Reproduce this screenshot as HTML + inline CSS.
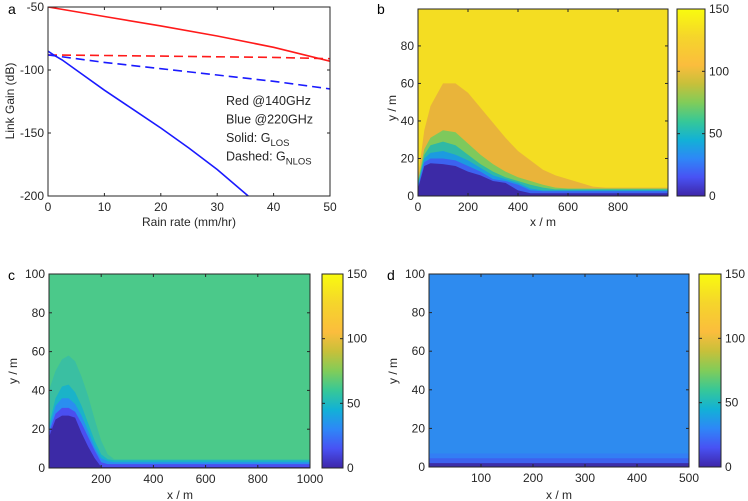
<!DOCTYPE html>
<html><head><meta charset="utf-8"><style>
html,body{margin:0;padding:0;background:#fff;}
svg{display:block;font-family:"Liberation Sans",Arial,sans-serif;}
text{fill:#262626;font-size:12px;}
</style></head><body>
<svg id="root" width="748" height="501" viewBox="0 0 748 501" xmlns="http://www.w3.org/2000/svg">
<defs>
<linearGradient id="parula" x1="0" y1="1" x2="0" y2="0">
<stop offset="0" stop-color="#3e26a8"/><stop offset="0.1" stop-color="#4852f4"/>
<stop offset="0.2" stop-color="#2e87f7"/><stop offset="0.3" stop-color="#12b1d6"/>
<stop offset="0.4" stop-color="#37c897"/><stop offset="0.5" stop-color="#81cc59"/>
<stop offset="0.6" stop-color="#c7c03a"/><stop offset="0.7" stop-color="#fbbd3d"/>
<stop offset="0.85" stop-color="#f5d52b"/><stop offset="1" stop-color="#f9fb0e"/>
</linearGradient>
</defs>
<g id="gA"></g>
<g id="gB"></g>
<g id="gC"></g>
<g id="gD"></g>
</svg>
<script>
// ---- Panel a data ----
const rainX = [0,10,20,30,40,50];
const redSolid = [-50,-57.5,-65,-73,-82,-93];
const redDashed = [-88,-88.5,-89,-89.5,-90,-91];
const blueDashed = [-88,-94,-99,-104,-109,-115];
const blueSolidX = [0,1,2.5,5,10,15,20,25,30,35.5];
const blueSolid = [-85,-88,-92,-100,-116,-131,-146,-162,-179,-200];
const aXTicks = [0,10,20,30,40,50];
const aYTicks = [-50,-100,-150,-200];
const legendLines = ["Red @140GHz","Blue @220GHz","Solid: G","Dashed: G"];
const legendSubs = ["","","LOS","NLOS"];

// ---- Panel b data ----
const bX = [0,25,50,100,150,200,250,300,350,400,450,500,550,600,650,700,750,1000];
const bOrange = [10,35,48,60,60,55,47,39,31,24,19,14,11,9,7,5,4.5,4.5];
const bGreen  = [8,25,31,35,34,28,22,17,13,10,8,6,4.5,4,4,4,4,4];
const bTeal   = [7,22,27,29,27,22,17,13,10,8,6,4.5,3.5,3.5,3.5,3.5,3.5,3.5];
const bBlue   = [6,20,23,24,22,19,15,11,9,7,4,3,3,3,3,3,3,3];
const bBlue2  = [5,18,20,20,19,16,13,9,8,6,3,2.5,2.5,2.5,2.5,2.5,2.5,2.5];
const bNavy   = [4,16,17.5,17,16,13,11,8,7,3,1.5,1.5,1.5,1.5,1.5,1.5,1.5,1.5];
const bXTicks = [0,200,400,600,800];
const bYTicks = [0,20,40,60,80];

// ---- Panel c data ----
const cX = [0,25,50,75,100,125,150,175,200,225,250,275,300,1000];
const cTeal  = [40,50,56,58,55,47,37,25,14,7,4.5,4.5,4.5,4.5];
const cCyan  = [22,36,42,43,39,32,23,14,7,4.5,4,4,4,4];
const cBlue  = [20,32,36,36,33,27,19,11,5,3.5,3,3,3,3];
const cBlue2 = [18,28,31,31,29,23,16,9,3,2,2,2,2,2];
const cNavy  = [16,25,27,27,26,18,11,5,0.5,0.5,0.5,0.5,0.5,0.5];
const cXTicks = [200,400,600,800,1000];
const cYTicks = [0,20,40,60,80,100];

// ---- Panel d data ----
const dX = [0,500];
const dBand1 = [7,7];
const dBand2 = [4.5,4.5];
const dBand3 = [2,2];
const dXTicks = [100,200,300,400,500];
const dYTicks = [0,20,40,60,80,100];
const cbTicks = [0,50,100,150];

const NS = "http://www.w3.org/2000/svg";
function mk(parent, tag, attrs, txt){
  const e = document.createElementNS(NS, tag);
  for (const k in attrs) e.setAttribute(k, attrs[k]);
  if (txt !== undefined) e.textContent = txt;
  parent.appendChild(e); return e;
}
function lin(d0,d1,r0,r1){ return v => r0 + (v-d0)/(d1-d0)*(r1-r0); }

function axesFrame(g, x0,y0,x1,y1, sx, sy, xt, yt, right){
  const f = mk(g,'rect',{x:x0,y:y0,width:x1-x0,height:y1-y0,fill:'none',stroke:'#262626','stroke-width':1});
  
  
  xt.forEach(v=>{
    const x = sx(v);
    mk(g,'line',{x1:x,y1:y1,x2:x,y2:y1-3,stroke:'#262626'});
    mk(g,'line',{x1:x,y1:y0,x2:x,y2:y0+3,stroke:'#262626'});
    const t = mk(g,'text',{x:x,y:y1+15,'text-anchor':'middle'}, v);
    
    
  });
  yt.forEach(v=>{
    const y = sy(v);
    mk(g,'line',{x1:x0,y1:y,x2:x0+3,y2:y,stroke:'#262626'});
    mk(g,'line',{x1:x1,y1:y,x2:x1-3,y2:y,stroke:'#262626'});
    const t = mk(g,'text',{x:x0-4,y:y+4,'text-anchor':'end'}, v);
    
    
  });
}
function polyline(g, xs, ys, sx, sy, color, dash, name){
  const pts = xs.map((x,i)=>sx(x).toFixed(1)+','+sy(ys[i]).toFixed(1)).join(' ');
  const p = mk(g,'polyline',{points:pts,fill:'none',stroke:color,'stroke-width':1.6,'stroke-dasharray':dash||'none'});
  
  
}
function area(g, xs, tops, sx, sy, color, name){
  let d = 'M'+sx(xs[0])+','+sy(0);
  xs.forEach((x,i)=>{ d += ' L'+sx(x).toFixed(1)+','+sy(tops[i]).toFixed(1); });
  d += ' L'+sx(xs[xs.length-1])+','+sy(0)+' Z';
  const p = mk(g,'path',{d:d,fill:color});
  
  
}
function colorbar(g, x0,y0,x1,y1){
  const r = mk(g,'rect',{x:x0,y:y0,width:x1-x0,height:y1-y0,fill:'url(#parula)',stroke:'#262626'});
  
  
  const s = lin(0,150,y1,y0);
  cbTicks.forEach(v=>{
    mk(g,'line',{x1:x0,y1:s(v),x2:x0+3,y2:s(v),stroke:'#262626'});
    mk(g,'line',{x1:x1,y1:s(v),x2:x1-3,y2:s(v),stroke:'#262626'});
    const t = mk(g,'text',{x:x1+4,y:s(v)+4}, v);
    
    
  });
}
function title(g, txt, x, y, rot, name){
  const t = mk(g,'text',{x:x,y:y,'text-anchor':'middle',transform:rot?`rotate(-90 ${x} ${y})`:''}, txt);
  
  
}
function plabel(g, txt, x, y){
  const t = mk(g,'text',{x:x,y:y,style:'font-size:14px;fill:#000'}, txt);
  
  
}

// Panel a
(function(){
  const g = document.getElementById('gA');
  const x0=48,x1=330,y0=7,y1=196;
  const sx = lin(0,50,x0,x1), sy = lin(-50,-200,y0,y1);
  mk(g,'clipPath',{id:'clipA'}).appendChild(Object.assign(document.createElementNS(NS,'rect'),{}));
  const cp = document.getElementById('clipA').firstChild;
  cp.setAttribute('x',x0);cp.setAttribute('y',y0);cp.setAttribute('width',x1-x0);cp.setAttribute('height',y1-y0);
  const lg = mk(g,'g',{'clip-path':'url(#clipA)'});
  polyline(lg, rainX, redDashed, sx, sy, '#ff1a1a', '9,5', 'red-dashed-nlos-line');
  polyline(lg, rainX, blueDashed, sx, sy, '#1a1aff', '9,5', 'blue-dashed-nlos-line');
  polyline(lg, rainX, redSolid, sx, sy, '#ff1a1a', null, 'red-solid-los-line');
  polyline(lg, blueSolidX, blueSolid, sx, sy, '#1a1aff', null, 'blue-solid-los-line');
  axesFrame(g,x0,y0,x1,y1,sx,sy,aXTicks,aYTicks);
  legendLines.forEach((s,i)=>{
    const t = mk(g,'text',{x:226,y:105+i*18.5,style:'font-size:12.5px'}, s);
    
    
    if (legendSubs[i]) mk(t,'tspan',{dy:4,style:'font-size:9.5px'}, legendSubs[i]);
  });
  title(g,'Rain rate (mm/hr)',189,226,false,'x-axis-title');
  title(g,'Link Gain (dB)',14,101,true,'y-axis-title');
  plabel(g,'a',8,14);
})();

// Panel b
(function(){
  const g = document.getElementById('gB');
  const x0=418,x1=668,y0=9,y1=196;
  const sx = lin(0,1000,x0,x1), sy = lin(0,100,y1,y0-0.6);
  const bg = mk(g,'rect',{x:x0,y:y0,width:x1-x0,height:y1-y0,fill:'#f4dd22'});
  
  
  area(g,bX,bOrange,sx,sy,'#e9b43a','contour-level-orange');
  area(g,bX,bGreen,sx,sy,'#7ec95c','contour-level-green');
  area(g,bX,bTeal,sx,sy,'#2fb9a5','contour-level-teal');
  area(g,bX,bBlue,sx,sy,'#1c9be0','contour-level-blue');
  area(g,bX,bBlue2,sx,sy,'#3c62f0','contour-level-blue2');
  area(g,bX,bNavy,sx,sy,'#3c2aa6','contour-level-navy');
  axesFrame(g,x0,y0,x1,y1,sx,sy,bXTicks,bYTicks);
  colorbar(g,677,9,705,196);
  title(g,'x / m',543,226,false,'x-axis-title');
  title(g,'y / m',396,108,true,'y-axis-title');
  plabel(g,'b',377,14);
})();

// Panel c
(function(){
  const g = document.getElementById('gC');
  const x0=49,x1=310,y0=274,y1=468;
  const sx = lin(0,1000,x0,x1), sy = lin(0,100,y1,y0);
  const bg = mk(g,'rect',{x:x0,y:y0,width:x1-x0,height:y1-y0,fill:'#4bc98a'});
  
  
  area(g,cX,cTeal,sx,sy,'#3abfa2','contour-level-teal');
  area(g,cX,cCyan,sx,sy,'#1ab3c8','contour-level-cyan');
  area(g,cX,cBlue,sx,sy,'#2a8ef0','contour-level-blue');
  area(g,cX,cBlue2,sx,sy,'#4a4ff0','contour-level-blue2');
  area(g,cX,cNavy,sx,sy,'#3c2aa6','contour-level-navy');
  axesFrame(g,x0,y0,x1,y1,sx,sy,cXTicks,cYTicks);
  colorbar(g,322,274,343,468);
  title(g,'x / m',180,499,false,'x-axis-title');
  title(g,'y / m',17,371,true,'y-axis-title');
  plabel(g,'c',8,280);
})();

// Panel d
(function(){
  const g = document.getElementById('gD');
  const x0=429,x1=689,y0=274,y1=467;
  const sx = lin(0,500,x0,x1), sy = lin(0,100,y1,y0);
  const bg = mk(g,'rect',{x:x0,y:y0,width:x1-x0,height:y1-y0,fill:'#2e8bef'});
  
  
  area(g,dX,dBand1,sx,sy,'#337ef4','contour-band-1');
  area(g,dX,dBand2,sx,sy,'#3d62ee','contour-band-2');
  area(g,dX,dBand3,sx,sy,'#3d2ea8','contour-band-3');
  axesFrame(g,x0,y0,x1,y1,sx,sy,dXTicks,dYTicks);
  colorbar(g,699,274,721,467);
  title(g,'x / m',559,499,false,'x-axis-title');
  title(g,'y / m',397,371,true,'y-axis-title');
  plabel(g,'d',387,280);
})();
</script>
</body></html>
